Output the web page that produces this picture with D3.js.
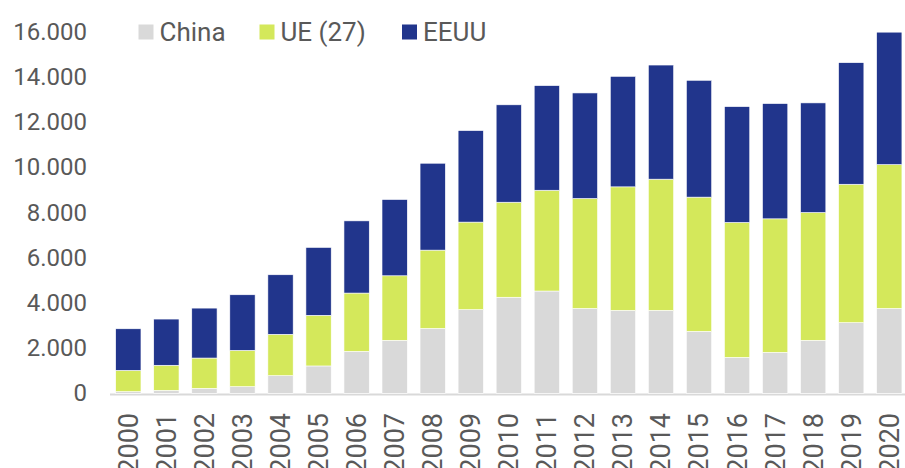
<!DOCTYPE html>
<html>
<head>
<meta charset="utf-8">
<script src="https://cdn.jsdelivr.net/npm/d3@7"></script>
<style>
  body { margin: 0; background: #fff; }
  svg text { font-family: Roboto, "Noto Sans", sans-serif; fill: #595959; }
</style>
</head>
<body>
<svg id="chart" width="905" height="468"></svg>
<script>
var years = ["2000","2001","2002","2003","2004","2005","2006","2007","2008","2009","2010",
             "2011","2012","2013","2014","2015","2016","2017","2018","2019","2020"];
var china = [75, 130, 220, 295, 780, 1210, 1855, 2345, 2870, 3700, 4250,
             4525, 3755, 3670, 3670, 2740, 1590, 1810, 2345, 3125, 3755];
var ue = [940, 1110, 1340, 1605, 1830, 2240, 2580, 2855, 3465, 3875, 4205,
          4460, 4865, 5465, 5805, 5940, 5970, 5910, 5655, 6125, 6365];
var eeuu = [1840, 2045, 2210, 2460, 2635, 3005, 3195, 3375, 3845, 4050, 4310,
            4630, 4670, 4890, 5050, 5170, 5125, 5100, 4850, 5380, 5860];
var seriesNames = ["China", "UE (27)", "EEUU"];
var yTicks = [0, 2000, 4000, 6000, 8000, 10000, 12000, 14000, 16000];

var svg = d3.select("#chart");

var colors = d3.scaleOrdinal()
    .domain(seriesNames)
    .range(["#d9d9d9", "#d4e85b", "#21358c"]);

var rows = years.map(function(y, i) {
  return { year: y, "China": china[i], "UE (27)": ue[i], "EEUU": eeuu[i] };
});

var stack = d3.stack().keys(seriesNames)(rows);

var x = d3.scaleBand()
    .domain(years)
    .range([109.3, 908.3])
    .paddingInner(0.335)
    .paddingOuter(0.1675);

var y = d3.scaleLinear()
    .domain([0, 16000])
    .range([393.3, 31.7]);

// axis line
svg.append("line")
    .attr("x1", 110).attr("x2", 905)
    .attr("y1", 394.5).attr("y2", 394.5)
    .attr("stroke", "#d9d9d9")
    .attr("stroke-width", 2);

// bars
svg.append("g").selectAll("g")
  .data(stack)
  .enter().append("g")
    .attr("fill", function(d) { return colors(d.key); })
  .selectAll("rect")
  .data(function(d) { return d; })
  .enter().append("rect")
    .attr("x", function(d) { return x(d.data.year); })
    .attr("width", x.bandwidth())
    .attr("y", function(d) { return y(d[1]); })
    .attr("height", function(d) { return y(d[0]) - y(d[1]); })
    .attr("stroke", "#fff")
    .attr("stroke-width", 0.6);

// y axis labels
var fmt = d3.formatLocale({ decimal: ",", thousands: ".", grouping: [3], currency: ["", "€"] }).format(",d");
var yAxis = d3.axisLeft(y).tickValues(yTicks).tickFormat(fmt).tickSize(0).tickPadding(0);
var gy = svg.append("g")
    .attr("transform", "translate(87,0)")
    .call(yAxis);
gy.select(".domain").remove();
gy.selectAll("text")
    .style("font-size", "24px")
    .attr("fill", "#595959");

// x axis labels
var xAxis = d3.axisBottom(x).tickSize(0);
var gx = svg.append("g")
    .attr("transform", "translate(0,413)")
    .call(xAxis);
gx.select(".domain").remove();
gx.selectAll("text")
    .style("font-size", "27px")
    .attr("fill", "#595959")
    .attr("text-anchor", "end")
    .attr("dy", "0.35em")
    .attr("y", 0)
    .attr("transform", "rotate(-90)");

// legend
var legX = [138.5, 259.5, 402];
var leg = svg.append("g").selectAll("g")
  .data(seriesNames)
  .enter().append("g")
    .attr("transform", function(d, i) { return "translate(" + legX[i] + ",24.5)"; });
leg.append("rect")
    .attr("width", 15).attr("height", 15)
    .attr("fill", function(d) { return colors(d); });
leg.append("text")
    .attr("x", 21).attr("y", 7.5)
    .attr("dy", "0.35em")
    .style("font-size", "26px")
    .text(function(d) { return d; });
</script>
</body>
</html>
